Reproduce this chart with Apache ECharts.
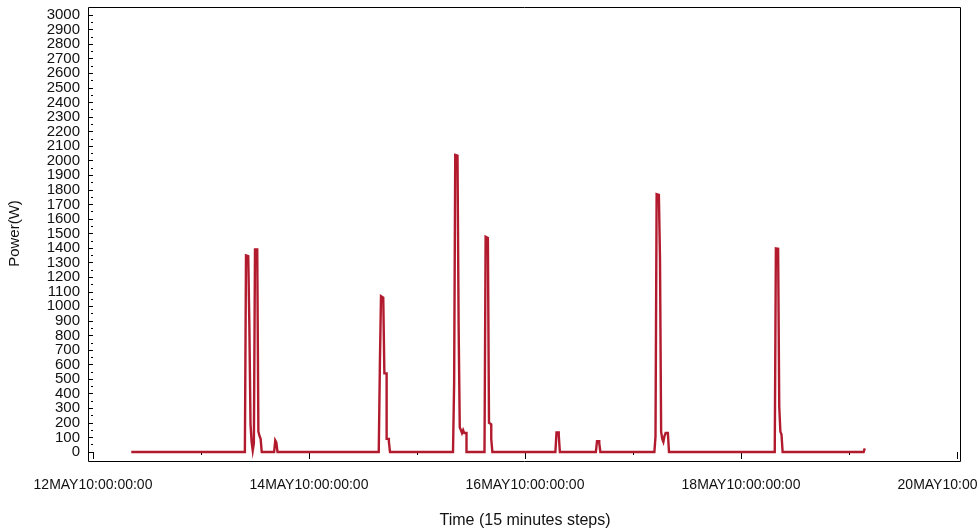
<!DOCTYPE html>
<html>
<head>
<meta charset="utf-8">
<script src="https://cdn.jsdelivr.net/npm/echarts@6/dist/echarts.min.js"></script>
<style>
html,body{margin:0;padding:0;background:#fff;}
#chart{width:977px;height:531px;}
</style>
</head>
<body>
<div id="chart"></div>
<script>
// Sample times (15-minute steps) and power readings in W
const times = [
  '2010-05-12 08:30', '2010-05-13 09:45',
  '2010-05-13 10:00', '2010-05-13 10:15', '2010-05-13 10:30', '2010-05-13 10:45',
  '2010-05-13 11:00', '2010-05-13 11:15', '2010-05-13 11:30', '2010-05-13 11:45',
  '2010-05-13 12:00', '2010-05-13 12:15', '2010-05-13 12:30', '2010-05-13 12:45',
  '2010-05-13 13:00', '2010-05-13 13:15', '2010-05-13 13:30',
  '2010-05-13 16:15', '2010-05-13 16:30', '2010-05-13 16:45', '2010-05-13 17:00',
  '2010-05-14 15:30', '2010-05-14 15:45', '2010-05-14 16:00', '2010-05-14 16:15',
  '2010-05-14 16:30', '2010-05-14 16:45', '2010-05-14 17:00', '2010-05-14 17:15',
  '2010-05-14 17:30', '2010-05-14 17:45', '2010-05-14 18:00',
  '2010-05-15 08:00', '2010-05-15 08:15', '2010-05-15 08:30', '2010-05-15 08:45',
  '2010-05-15 09:00', '2010-05-15 09:15', '2010-05-15 09:30', '2010-05-15 09:45',
  '2010-05-15 10:00', '2010-05-15 10:15', '2010-05-15 10:30', '2010-05-15 10:45',
  '2010-05-15 11:00',
  '2010-05-15 15:00', '2010-05-15 15:15', '2010-05-15 15:30', '2010-05-15 15:45',
  '2010-05-15 16:00', '2010-05-15 16:15', '2010-05-15 16:30', '2010-05-15 16:45',
  '2010-05-16 06:45', '2010-05-16 07:00', '2010-05-16 07:15', '2010-05-16 07:30',
  '2010-05-16 07:45',
  '2010-05-16 15:45', '2010-05-16 16:00', '2010-05-16 16:15', '2010-05-16 16:30',
  '2010-05-16 16:45',
  '2010-05-17 04:45', '2010-05-17 05:00', '2010-05-17 05:15', '2010-05-17 05:30',
  '2010-05-17 05:45', '2010-05-17 06:00', '2010-05-17 06:15', '2010-05-17 06:30',
  '2010-05-17 06:45', '2010-05-17 07:00', '2010-05-17 07:15', '2010-05-17 07:30',
  '2010-05-17 07:45', '2010-05-17 08:00',
  '2010-05-18 07:30', '2010-05-18 07:45', '2010-05-18 08:00', '2010-05-18 08:15',
  '2010-05-18 08:30', '2010-05-18 08:45', '2010-05-18 09:00', '2010-05-18 09:15',
  '2010-05-19 03:15', '2010-05-19 03:30'
];
const power = [
  0, 0,
  1350, 1345, 1340, 860,
  190, 70, 10, 60,
  1390, 1390, 1375, 140,
  110, 90, 0,
  0, 80, 65, 0,
  0, 597, 1070, 1060,
  1050, 540, 540, 90,
  90, 70, 0,
  0, 467, 2040, 2035,
  2025, 872, 170, 150,
  130, 150, 130, 130,
  0,
  0, 1478, 1470, 1462,
  200, 190, 90, 0,
  0, 135, 135, 117,
  0,
  0, 75, 75, 60,
  0,
  0, 105, 1770, 1765,
  1757, 1325, 140, 90,
  70, 110, 130, 130,
  120, 0,
  0, 1398, 1395, 1387,
  311, 140, 120, 0,
  0, 25
];
const tickLabels = ['12MAY10:00:00:00', '14MAY10:00:00:00', '16MAY10:00:00:00', '18MAY10:00:00:00', '20MAY10:00:00:00'];
const yAxisTitle = 'Power(W)';
const xAxisTitle = 'Time (15 minutes steps)';

const ORIGIN = Date.UTC(2010, 4, 12, 0, 0);
function toDays(s) {
  const [d, t] = s.split(' ');
  const [Y, M, D] = d.split('-').map(Number);
  const [h, m] = t.split(':').map(Number);
  return (Date.UTC(Y, M - 1, D, h, m) - ORIGIN) / 86400000;
}
const seriesData = times.map((t, i) => [toDays(t), power[i]]);

const font = "'Liberation Sans', Arial, sans-serif";
const yLabelStyle = {margin: 8, color: '#111', fontFamily: font, fontSize: 15,
  showMinLabel: true, showMaxLabel: true, hideOverlap: false};
const chart = echarts.init(document.getElementById('chart'), null, {renderer: 'canvas'});
chart.setOption({
  animation: false,
  backgroundColor: '#fff',
  grid: {left: 93, right: 20, top: 15, bottom: 79, containLabel: false, outerBoundsMode: 'none'},
  graphic: [{
    type: 'polygon', z: 100, silent: true,
    shape: {points: [[88.5, 7.5], [960.5, 7.5], [960.5, 461.5], [88.5, 461.5]]},
    style: {fill: null, stroke: '#000', lineWidth: 1}
  }],
  xAxis: {
    type: 'value', min: 0, max: 8, interval: 2, offset: 9,
    axisLine: {show: false},
    axisTick: {show: true, length: 7, lineStyle: {color: '#000'}},
    minorTick: {show: true, splitNumber: 2, length: 3, lineStyle: {color: '#000'}},
    splitLine: {show: false},
    axisLabel: {
      margin: 17, color: '#111', fontFamily: font, fontSize: 14,
      showMinLabel: true, showMaxLabel: true, hideOverlap: false,
      formatter: v => tickLabels[Math.round(v / 2)] || ''
    },
    name: xAxisTitle, nameLocation: 'middle', nameGap: 52,
    nameTextStyle: {color: '#111', fontFamily: font, fontSize: 16}
  },
  yAxis: [{
    type: 'value', min: 0, max: 3000, interval: 100, offset: 5, position: 'left',
    axisLine: {show: false},
    axisTick: {show: true, length: 4, lineStyle: {color: '#000'}},
    minorTick: {show: true, splitNumber: 2, length: 2, lineStyle: {color: '#000'}},
    splitLine: {show: false},
    axisLabel: Object.assign({}, yLabelStyle, {
      formatter: v => (v === 0 || v === 3000) ? '' : String(v)
    }),
    name: yAxisTitle, nameLocation: 'middle', nameGap: 66, nameRotate: 90,
    nameTextStyle: {color: '#111', fontFamily: font, fontSize: 15}
  }, {
    type: 'value', min: 0, max: 3000, interval: 3000, offset: 5, position: 'left',
    axisLine: {show: false}, axisTick: {show: false}, splitLine: {show: false},
    axisLabel: Object.assign({}, yLabelStyle, {formatter: v => String(v)})
  }],
  series: [{
    type: 'line', data: seriesData, showSymbol: false, symbol: 'none', step: 'end',
    lineStyle: {color: '#B21A2E', width: 2.4, join: 'miter'}, clip: false
  }]
});
</script>
</body>
</html>
